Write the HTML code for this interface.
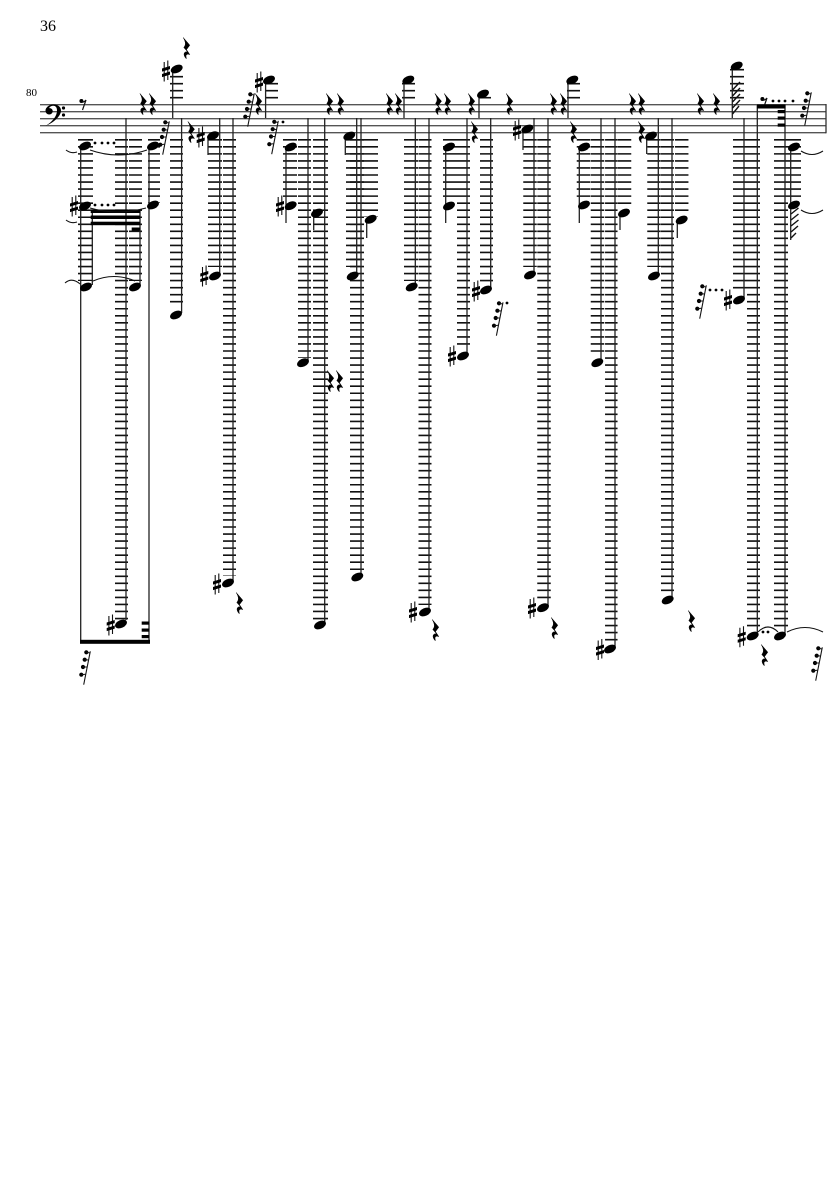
<!DOCTYPE html>
<html><head><meta charset="utf-8"><style>
html,body{margin:0;padding:0;background:#fff}
svg{display:block}
.l{fill:none;stroke:#111;stroke-dasharray:1.6 5.44}
.st{fill:none;stroke:#222;stroke-width:1.3}
.t{fill:none;stroke:#111;stroke-width:1.1}
</style></head><body>
<svg width="835" height="1181" viewBox="0 0 835 1181" xmlns="http://www.w3.org/2000/svg">
<defs>
<ellipse id="h" rx="6.3" ry="3.9" transform="rotate(-25)" fill="#000"/>
<g id="s"><path d="M-1.8-9V10.5M1.8-10.5V9" stroke="#111" stroke-width="1.1" fill="none"/><path d="M-4-2.5 4-5V-1.9L-4 .6ZM-4 3 4 .5V3.6L-4 6.1Z" fill="#000"/></g>
<path id="r" fill="#000" stroke="#000" stroke-width=".5" d="M-2.8-10.5 3.8-2.8 .5 1.6 3.8 6.6C1 5.5-1 6.6 .5 10.5H0C-3.3 6.6-2.2 3.3 1.6 3.8L-2.2-.5C0-3.3 0-5.5-2.8-10.5Z"/>
<g id="m"><path d="M4.3-16.7-2.3 16.7" stroke="#111" stroke-width="1.1" fill="none"/><circle cx=".3" cy="-15.7" r="2.1"/><circle cx="-1.3" cy="-8.3" r="2.1"/><circle cx="-3" cy="-1" r="2.1"/><circle cx="-4.7" cy="6.7" r="2.1"/><path d="M.3-15.7 4-15M-1.3-8.3 2.6-8M-3-1 1-1M-4.7 6.7-.6 6.3" stroke="#111" stroke-width="1"/></g>
<g id="e"><circle cx="-1.6" cy="-4" r="2"/><path d="M-1.6-3C0-2.6 1.5-3.2 3-5L-.5 5" stroke="#111" stroke-width="1.2" fill="none"/></g>
</defs>
<text x="40" y="31" font-family="Liberation Serif, serif" font-size="16">36</text>
<text x="26" y="96" font-family="Liberation Serif, serif" font-size="11">80</text>
<g stroke="#555" stroke-width="1.4"><path d="M40 104.7H826M40 111.7H826M40 118.7H826M40 125.7H826M40 132.7H826"/></g>
<path d="M826 104V133.3" stroke="#333" stroke-width="1.3"/>
<path d="M45.5 126C54 122.5 61 116 61 110.5 61 106.5 57.5 104.5 53.5 104.5 49 104.5 45.5 107.6 45.5 110.5 45.5 113 47.3 114.5 49.2 114.5 51.2 114.5 52.7 113 52.7 111 52.7 109.3 51 108 49 108.2 50 106.5 51.5 105.8 53.3 105.8 56 105.8 57 108 57 110.5 57 116.5 52 122 45.5 126Z" fill="#000"/>
<circle cx="63.5" cy="108" r="1.6"/><circle cx="63.5" cy="115" r="1.6"/>
<use href="#e" x="83" y="105"/><use href="#e" x="764" y="103"/>

<!-- ledger lines below staff -->
<g class="l">
<path class="l" stroke-width="15" d="M85.5 139V281"/>
<path class="l" stroke-width="13" d="M121.5 139V621"/>
<path class="l" stroke-width="13" d="M135.5 139V281"/>
<path class="l" stroke-width="12" d="M154 139V203"/>
<path class="l" stroke-width="13" d="M176.5 139V308"/>
<path class="l" stroke-width="14" d="M215 139V267"/>
<path class="l" stroke-width="13" d="M229.5 139V576"/>
<path class="l" stroke-width="14" d="M290 139V201"/>
<path class="l" stroke-width="13" d="M304.5 139V358"/>
<path class="l" stroke-width="15" d="M320.5 139V623"/>
<path class="l" stroke-width="14" d="M353 139V267"/>
<path class="l" stroke-width="14" d="M357 139V571"/>
<path class="l" stroke-width="16" d="M370 139V217"/>
<path class="l" stroke-width="14" d="M411 139V281"/>
<path class="l" stroke-width="13" d="M425 139V605"/>
<path class="l" stroke-width="14" d="M450 139V201"/>
<path class="l" stroke-width="13" d="M463.5 139V349"/>
<path class="l" stroke-width="13" d="M486.5 139V284"/>
<path class="l" stroke-width="13.5" d="M530 139V267"/>
<path class="l" stroke-width="13.5" d="M544 139V601"/>
<path class="l" stroke-width="13.5" d="M583.5 139V201"/>
<path class="l" stroke-width="13.5" d="M597.5 139V356"/>
<path class="l" stroke-width="12.5" d="M611.3 139V643"/>
<path class="l" stroke-width="13.5" d="M624.5 139V206"/>
<path class="l" stroke-width="13.5" d="M654 139V267"/>
<path class="l" stroke-width="13" d="M667.5 139V594"/>
<path class="l" stroke-width="13.5" d="M681.7 139V214"/>
<path class="l" stroke-width="14" d="M740 139V291"/>
<path class="l" stroke-width="13" d="M753.5 139V631"/>
<path class="l" stroke-width="14" d="M781 139V631"/>
<path class="l" stroke-width="13" d="M794.5 139V201"/>
</g>
<!-- ledger lines above staff -->
<g fill="none" stroke="#111" stroke-width="1.6">
<path d="M170 76.7H183M170 83.7H183M170 90.7H183M170 97.7H183"/>
<path d="M265 83.7H278M265 90.7H278M265 97.7H278"/>
<path d="M402 83.7H415M402 90.7H415M402 97.7H415"/>
<path d="M479 97.7H491"/>
<path d="M567 83.7H580M567 90.7H580M567 97.7H580"/>
<path d="M730 69.7H744M730 76.7H744M730 83.7H744M730 90.7H744M730 97.7H744"/>
</g>
<!-- stems -->
<path class="st" d="M80.7 146V641M92.3 210V285M126 118V620M140 210V285M149 146V641M172.7 69V118M181.6 118V313M208 136V155M219.7 118V274M233 118V581M265.6 80V118M286 146V223M308 118V360M313.7 213V230M324.7 118V622M345.3 136V155M356.7 118V274M361 118V575M366.7 219V238M404 80V118M415.3 118V285M429 118V610M445.7 146V223M467 118V355M479 94V118M490.7 118V288M523 129V150M534 118V273M548 118V606M568 80V118M579.3 146V223M601 118V361M615 118V647M620 213V230M646.7 136V154M658.3 118V274M672 118V598M677.3 219V238M732.3 66V118M744 118V298M757.3 105V635M785 105V634M790.7 146V240"/>
<!-- heads -->
<use href="#h" x="85" y="146"/><use href="#h" x="85" y="206"/><use href="#h" x="86" y="287"/>
<use href="#h" x="153" y="146"/><use href="#h" x="153" y="205"/><use href="#h" x="135" y="287"/>
<use href="#h" x="121" y="624"/><use href="#h" x="176" y="315"/><use href="#h" x="213" y="135.7"/>
<use href="#h" x="215" y="276"/><use href="#h" x="228" y="583"/><use href="#h" x="176.7" y="69"/>
<use href="#h" x="269" y="80"/><use href="#h" x="290.7" y="147"/><use href="#h" x="290.7" y="205.7"/>
<use href="#h" x="303" y="362.7"/><use href="#h" x="320" y="625"/><use href="#h" x="317" y="213"/>
<use href="#h" x="349.3" y="136"/><use href="#h" x="352.7" y="276"/><use href="#h" x="357.3" y="577"/>
<use href="#h" x="370.7" y="219.3"/><use href="#h" x="408.3" y="80"/><use href="#h" x="411.7" y="287"/>
<use href="#h" x="425" y="612"/><use href="#h" x="449" y="147"/><use href="#h" x="449" y="206"/>
<use href="#h" x="463" y="356"/><use href="#h" x="483" y="94"/><use href="#h" x="486" y="290"/>
<use href="#h" x="527.3" y="129"/><use href="#h" x="530" y="275"/><use href="#h" x="543" y="607.7"/>
<use href="#h" x="572.3" y="80"/><use href="#h" x="584" y="147"/><use href="#h" x="584" y="205"/>
<use href="#h" x="597.3" y="362.7"/><use href="#h" x="610" y="649"/><use href="#h" x="624" y="213"/>
<use href="#h" x="651" y="136"/><use href="#h" x="654" y="276"/><use href="#h" x="667.7" y="600"/>
<use href="#h" x="681.7" y="220"/><use href="#h" x="736.7" y="66"/><use href="#h" x="739" y="300"/>
<use href="#h" x="752.7" y="636"/><use href="#h" x="780" y="636"/><use href="#h" x="794" y="147"/><use href="#h" x="794" y="205"/>
<!-- sharps -->
<use href="#s" x="74" y="206"/><use href="#s" x="110.7" y="625"/><use href="#s" x="204.3" y="276"/>
<use href="#s" x="200.7" y="137"/><use href="#s" x="217" y="584"/><use href="#s" x="166" y="71"/>
<use href="#s" x="259" y="82"/><use href="#s" x="280" y="206"/><use href="#s" x="413" y="612"/>
<use href="#s" x="452" y="356"/><use href="#s" x="476" y="291"/><use href="#s" x="517" y="130"/>
<use href="#s" x="532" y="608"/><use href="#s" x="600" y="649.5"/><use href="#s" x="728" y="300"/><use href="#s" x="741.7" y="636.7"/>
<!-- rests -->
<use href="#r" x="142.7" y="104"/><use href="#r" x="152" y="104"/><use href="#r" x="186" y="48"/><use href="#r" x="190.7" y="132"/>
<use href="#r" x="258" y="104"/><use href="#r" x="329" y="104"/><use href="#r" x="340" y="104"/><use href="#r" x="330" y="381"/><use href="#r" x="339" y="381"/>
<use href="#r" x="239" y="603"/><use href="#r" x="389" y="104"/><use href="#r" x="398" y="104"/><use href="#r" x="435" y="630"/>
<use href="#r" x="437.7" y="104"/><use href="#r" x="447" y="104"/><use href="#r" x="471" y="104"/><use href="#r" x="474" y="132"/>
<use href="#r" x="509" y="104"/><use href="#r" x="553" y="104"/><use href="#r" x="563" y="104"/><use href="#r" x="573" y="132"/>
<use href="#r" x="554" y="628"/><use href="#r" x="632" y="104"/><use href="#r" x="641" y="104"/><use href="#r" x="641" y="132"/>
<use href="#r" x="691" y="621"/><use href="#r" x="700" y="104"/><use href="#r" x="716" y="104"/><use href="#r" x="764" y="655"/>
<!-- slashed rests -->
<use href="#m" x="250" y="110"/><use href="#m" x="165" y="138"/><use href="#m" x="274" y="137.5"/><use href="#m" x="86" y="668"/>
<use href="#m" x="498.7" y="319"/><use href="#m" x="702" y="302"/><use href="#m" x="807" y="109"/><use href="#m" x="818" y="664"/>
<!-- dots -->
<g fill="#000">
<circle cx="283" cy="122" r="1.4"/><circle cx="507" cy="303" r="1.4"/>
<circle cx="95" cy="143" r="1.4"/><circle cx="102" cy="143" r="1.4"/><circle cx="108" cy="143" r="1.4"/><circle cx="114" cy="143" r="1.4"/>
<circle cx="95" cy="205" r="1.4"/><circle cx="102" cy="205" r="1.4"/><circle cx="108" cy="205" r="1.4"/><circle cx="114" cy="205" r="1.4"/>
<circle cx="773" cy="101" r="1.4"/><circle cx="779" cy="101" r="1.4"/><circle cx="785" cy="101" r="1.4"/><circle cx="793" cy="101" r="1.4"/>
<circle cx="710" cy="290" r="1.4"/><circle cx="716" cy="290" r="1.4"/><circle cx="722" cy="290" r="1.4"/>
<circle cx="763" cy="632" r="1.4"/><circle cx="768" cy="632" r="1.4"/>
</g>
<!-- beams -->
<g fill="#000">
<rect x="80" y="639.8" width="70" height="4"/>
<rect x="141.7" y="621.5" width="7.5" height="3.2"/><rect x="141.7" y="628.5" width="7.5" height="3.2"/><rect x="141.7" y="635" width="7.5" height="3.2"/>
<rect x="90.7" y="209.5" width="49.5" height="3.5"/><rect x="90.7" y="215.5" width="49.5" height="3.5"/><rect x="90.7" y="221.7" width="49.5" height="3.5"/>
<rect x="131.7" y="227.5" width="8.5" height="3"/>
<rect x="757" y="104.5" width="28.5" height="4"/>
<rect x="777.7" y="110" width="7.5" height="3.2"/><rect x="777.7" y="116.5" width="7.5" height="3.2"/><rect x="777.7" y="123.5" width="7.5" height="3.2"/>
</g>
<!-- tremolo hatching -->
<g stroke="#111" stroke-width="1.4" fill="none">
<path d="M732.5 90 740 82M732.5 96 740 88M732.5 102 740 94M732.5 108 740 100M732.5 114 739 106"/>
<path d="M791 214 798.5 208M791 220 798.5 214M791 226 798.5 220M791 232 798 226M791 238 796 233"/>
</g>
<!-- ties -->
<path class="t" d="M66 150Q71 154 77 152"/>
<path class="t" d="M66 220Q71 224 77 222"/>
<path class="t" d="M65 283Q72 277 80 284"/>
<path class="t" d="M90 150Q118 160 147 150"/>
<path class="t" d="M90 208Q118 216 146 208"/>
<path class="t" d="M93 281Q114 272 135 281"/>
<path class="t" d="M801 151Q812 158 823 151"/>
<path class="t" d="M801 210Q812 217 823 210"/>
<path class="t" d="M758 632Q768 622 778 632"/>
<path class="t" d="M787 632Q805 623 823 632"/>
</svg>
</body></html>
